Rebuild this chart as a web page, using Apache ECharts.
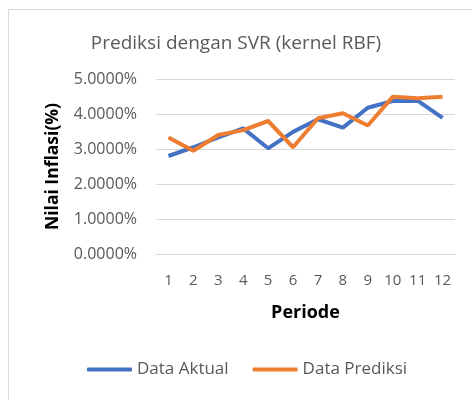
<!DOCTYPE html>
<html><head><meta charset="utf-8">
<script src="https://cdn.jsdelivr.net/npm/echarts@6/dist/echarts.min.js"></script>
<style>html,body{margin:0;padding:0;background:#fff}#c{width:472px;height:400px}</style>
</head><body><div id="c"></div>
<script>
const categories = ['1','2','3','4','5','6','7','8','9','10','11','12'];
const dataAktual = [2.80, 3.05, 3.33, 3.59, 3.02, 3.49, 3.85, 3.61, 4.18, 4.37, 4.38, 3.89];
const dataPrediksi = [3.33, 2.95, 3.40, 3.54, 3.80, 3.05, 3.88, 4.02, 3.67, 4.49, 4.45, 4.49];
const seriesNames = ['Data Aktual', 'Data Prediksi'];
const titleText = 'Prediksi dengan SVR (kernel RBF)';

const chart = echarts.init(document.getElementById('c'));
const font = 'Open Sans';
chart.setOption({
  animation: false,
  graphic: [{type:'rect', shape:{x:8.5,y:9.5,width:480,height:420}, style:{fill:'none', stroke:'#d9d9d9', lineWidth:1}}],
  title: {text: titleText, left: 'center', top: 29, textStyle:{fontFamily:font, fontSize:19, fontWeight:'normal', color:'#595959'}},
  legend: {bottom: 17, left: 82, itemWidth: 45, itemHeight: 4, itemGap: 24,
    icon: 'roundRect',
    textStyle:{fontFamily:font, fontSize:17, color:'#595959'}, data: seriesNames},
  grid: {left: 156, right: 17, top: 79, bottom: 146},
  xAxis: {type:'category', data: categories, boundaryGap: true,
    name:'Periode', nameLocation:'middle', nameGap: 50,
    nameTextStyle:{fontFamily:font, fontSize:18, fontWeight:'bold', color:'#000'},
    axisLine:{show:true, lineStyle:{color:'#d9d9d9'}}, axisTick:{show:false},
    axisLabel:{fontFamily:font, fontSize:15, color:'#595959', margin:19}},
  yAxis: {type:'value', min:0, max:5, interval:1,
    name:'Nilai Inflasi(%)', nameLocation:'middle', nameGap: 94,
    nameTextStyle:{fontFamily:font, fontSize:17.5, fontWeight:'bold', color:'#000'},
    axisLine:{show:false}, axisTick:{show:false},
    splitLine:{lineStyle:{color:'#d9d9d9'}},
    axisLabel:{fontFamily:font, fontSize:16, color:'#595959', margin:19, formatter: v => v.toFixed(4) + '%'}},
  series: [
    {name: seriesNames[0], type:'line', data: dataAktual, symbol:'none', lineStyle:{color:'#4472c4', width:4}, itemStyle:{color:'#4472c4'}},
    {name: seriesNames[1], type:'line', data: dataPrediksi, symbol:'none', lineStyle:{color:'#ed7d31', width:4}, itemStyle:{color:'#ed7d31'}}
  ]
});
</script></body></html>
